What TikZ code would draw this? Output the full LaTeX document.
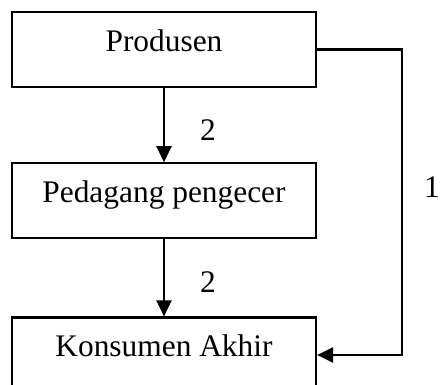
\documentclass[tikz,border=0pt]{standalone}
\usepackage{fontspec}
\setmainfont{Liberation Serif}
\usepackage{tikz}
\usetikzlibrary{positioning,arrows.meta}

\begin{document}
\begin{tikzpicture}[
  x=0.5pt, y=-0.5pt,
  every node/.style={font=\fontsize{15.7pt}{19pt}\selectfont},
  block/.style={rectangle, draw, line width=1.1pt, inner sep=0pt, minimum width=152pt, text height=19.5pt, text depth=18pt, anchor=north},
  arrow/.style={-{Triangle[length=8pt,width=7.5pt]}, line width=1.2pt},
  num/.style={inner sep=0pt},
]
\useasboundingbox (0,0) rectangle (444,385);
\clip (0,0) rectangle (444,385);

% Channel levels
\node[block] (prod) at (164,11) {Produsen};
\node[block, below=37pt of prod] (ped) {Pedagang pengecer};
\node[block, below=38.5pt of ped] (kons) {Konsumen Akhir};

% Channel 2 (via retailer)
\draw[arrow] (prod) -- (ped);
\draw[arrow] (ped) -- (kons);
\node[num] (lbla) at (208,130) {2};
\node[num] (lblb) at (208,282) {2};

% Channel 1 (direct)
\draw[arrow] (prod.east) -- ++(85,0) |- (kons.east);
\node[num] (lblc) at (432,187) {1};

\end{tikzpicture}
\end{document}
